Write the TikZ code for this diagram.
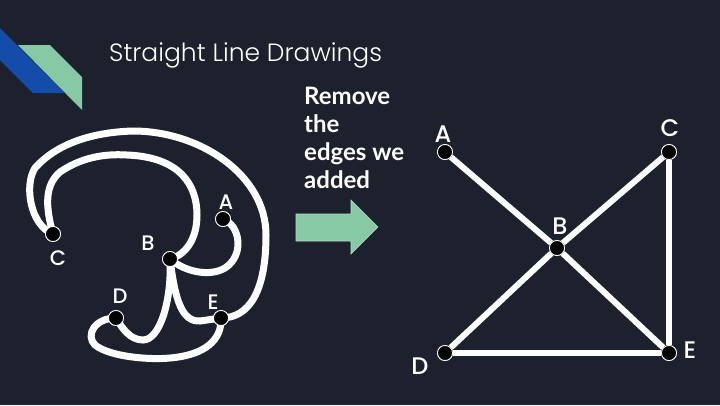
\documentclass[tikz,border=0pt]{standalone}
\usepackage{fontspec}
\setmainfont{Poppins}
\newfontfamily\titlefont{Poppins Light}
\newfontfamily\labelfont{Poppins Medium}
\newfontfamily\notefont{Lato}
\usetikzlibrary{positioning}
\definecolor{slidebg}{RGB}{28,33,45}
\definecolor{stripeblue}{RGB}{20,76,170}
\definecolor{stripegreen}{RGB}{135,200,165}
\tikzset{
  vertex/.style={circle, fill=black, draw=white, line width=0.8pt, minimum size=15pt, inner sep=0pt},
  vname/.style={text=white, font=\labelfont\fontsize{21}{21}\selectfont, inner sep=0pt},
  bigname/.style={vname, font=\labelfont\fontsize{24}{24}\selectfont},
  oldedge/.style={draw=white, line width=7pt},
  newedge/.style={draw=white, line width=6pt}
}

\begin{document}
\begin{tikzpicture}[x=1pt, y=-1pt]
  % background and corner stripes
  \fill[slidebg] (0,0) rectangle (720,405);
  \useasboundingbox (0,0) rectangle (720,405);
  \fill[stripeblue] (0,28) -- (65,93) -- (33,93) -- (0,60) -- cycle;
  \fill[stripegreen] (18,45) -- (50,45) -- (82,77) -- (82,110) -- cycle;

  \node[anchor=base west, inner sep=0pt, text=white, font=\titlefont\fontsize{25}{25}\selectfont] (title) at (109,61) {Straight Line Drawings};

  % left drawing, curved edges
  \node[vertex] (C) at (53,234) {};
  \node[vertex] (A) at (223,219) {};
  \node[vertex] (B) at (170,259) {};
  \node[vertex] (D) at (116,318) {};
  \node[vertex] (E) at (221,318) {};

  \draw[oldedge] (C.center) .. controls (30,225) and (24,185) .. (35,168)
      .. controls (60,140) and (100,132) .. (133,131)
      .. controls (200,131) and (266,175) .. (266,235)
      .. controls (266,290) and (250,318) .. (E.center);
  \draw[oldedge] (C.center) .. controls (45,205) and (45,185) .. (60,172)
      .. controls (85,155) and (110,154) .. (127,155)
      .. controls (180,157) and (197,185) .. (197,215)
      .. controls (197,240) and (185,255) .. (B.center);
  \draw[oldedge] (A.center) .. controls (240,225) and (245,255) .. (225,268)
      .. controls (210,277) and (185,272) .. (B.center);
  \draw[oldedge] (B.center) .. controls (175,300) and (182,322) .. (200,321) -- (E.center);
  \draw[oldedge] (B.center) .. controls (172,300) and (160,340) .. (143,340)
      .. controls (130,340) and (122,328) .. (D.center);
  \draw[oldedge] (D.center) .. controls (95,318) and (85,335) .. (95,345)
      .. controls (110,357) and (150,360) .. (170,358)
      .. controls (205,355) and (222,340) .. (E.center);

  \foreach \v in {A,B,C,D,E} \node[vertex] at (\v) {};

  \node[vname] (lA) at (226,202) {A};
  \node[vname] (lB) at (148,243) {B};
  \node[vname] (lC) at (58,258) {C};
  \node[vname] (lD) at (120,296) {D};
  \node[vname] (lE) at (213,302) {E};

  % middle text and arrow
  \node[anchor=north west, inner sep=0pt, align=left, text=white, font=\notefont\bfseries\fontsize{24}{28}\selectfont] (note) at (304,87) {Remove\\the\\edges we\\added};
  \filldraw[fill=stripegreen, draw=stripegreen!60!white, line width=0.6pt] (296,214) -- (351,214) -- (351,200) -- (378,227) -- (351,254) -- (351,241) -- (296,241) -- cycle;

  % right drawing, straight edges
  \node[vertex] (A2) at (445,152) {};
  \node[vertex] (C2) at (669,152) {};
  \node[vertex] (B2) at (557,248) {};
  \node[vertex] (D2) at (445,353) {};
  \node[vertex] (E2) at (669,353) {};

  \draw[newedge] (A2) -- (B2);
  \draw[newedge] (B2) -- (E2);
  \draw[newedge] (C2) -- (B2);
  \draw[newedge] (B2) -- (D2);
  \draw[newedge] (C2) -- (E2);
  \draw[newedge] (D2) -- (E2);

  \foreach \v in {A2,B2,C2,D2,E2} \node[vertex] at (\v) {};

  \node[bigname] (lA2) at (443,134) {A};
  \node[bigname] (lB2) at (560,226) {B};
  \node[bigname] (lC2) at (670,128) {C};
  \node[bigname] (lD2) at (420,366) {D};
  \node[bigname] (lE2) at (690,350) {E};
\end{tikzpicture}
\end{document}
